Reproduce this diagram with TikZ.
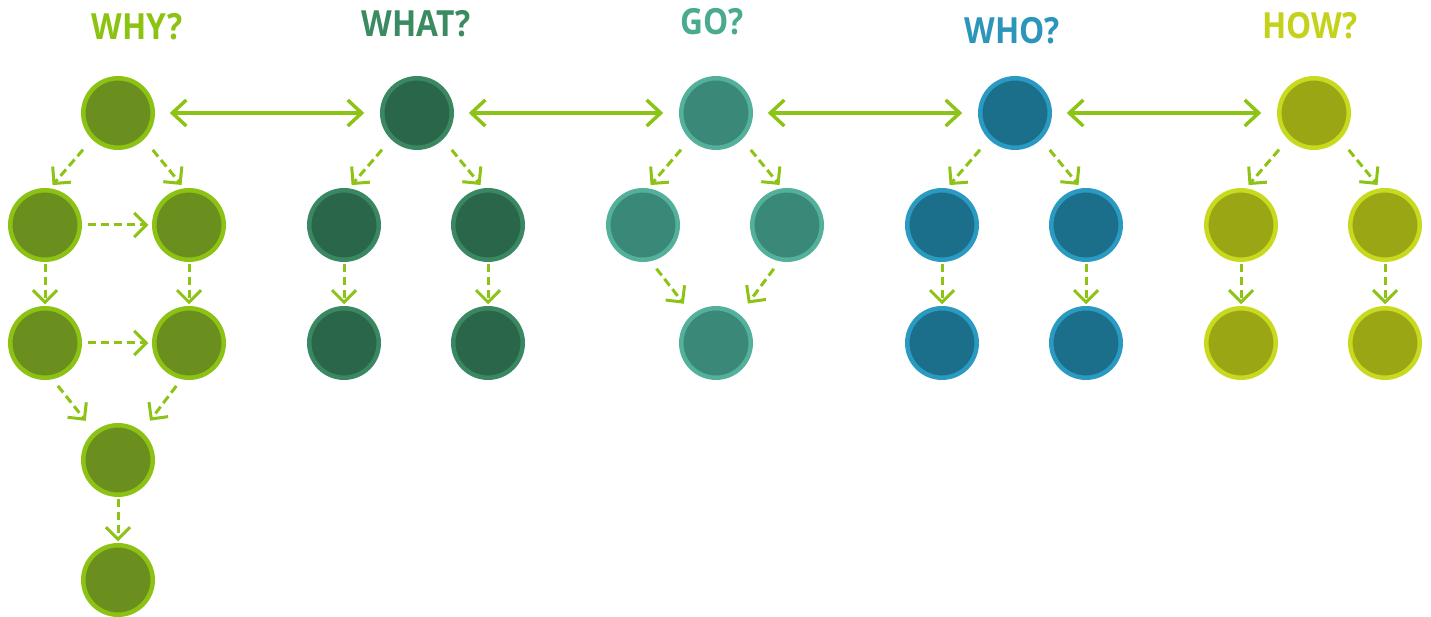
\documentclass[tikz,border=0pt]{standalone}
\usepackage{fontspec}
\setmainfont{Open Sans}
\newfontfamily\qfont{Open Sans}[FakeStretch=0.88]
\usetikzlibrary{arrows.meta}
\definecolor{arrowgreen}{HTML}{8CC314}
\definecolor{fillwhy}{HTML}{6A8F1F}\definecolor{linewhy}{HTML}{8CC214}\definecolor{textwhy}{HTML}{8CC210}
\definecolor{fillwhat}{HTML}{2A664A}\definecolor{linewhat}{HTML}{3A8862}\definecolor{textwhat}{HTML}{3A8A62}
\definecolor{fillgo}{HTML}{3A8877}\definecolor{linego}{HTML}{53B09A}\definecolor{textgo}{HTML}{4AAA90}
\definecolor{fillwho}{HTML}{1B6F8B}\definecolor{linewho}{HTML}{2A9AC2}\definecolor{textwho}{HTML}{2C95BA}
\definecolor{fillhow}{HTML}{9AA614}\definecolor{linehow}{HTML}{C8DA1E}\definecolor{texthow}{HTML}{C4D21C}
\begin{document}
\begin{tikzpicture}[x=0.02cm,y=0.02cm,
  ball/.style = {circle,line width=0.09cm,minimum size=1.39cm,inner sep=0pt,outer sep=0pt},
  link/.style = {draw=arrowgreen,line width=0.07cm,{Straight Barb[length=0.28cm,width=0.52cm]}-{Straight Barb[length=0.28cm,width=0.52cm]},shorten <=0.34cm,shorten >=0.36cm},
  flow/.style = {draw=arrowgreen,line width=0.06cm,dash pattern=on 0.17cm off 0.09cm,-{Straight Barb[length=0.24cm,width=0.48cm]}},
  qtext/.style = {font=\qfont\fontsize{20.5}{24}\selectfont\bfseries}]
\useasboundingbox (0,0) rectangle (1431,-617);
% questions
\node[qtext,text=textwhy]  (whyq)  at (137,-27)  {WHY?};
\node[qtext,text=textwhat] (whatq) at (416,-24)  {WHAT?};
\node[qtext,text=textgo]   (goq)   at (712,-22)  {GO?};
\node[qtext,text=textwho]  (whoq)  at (1012,-31) {WHO?};
\node[qtext,text=texthow]  (howq)  at (1310,-26) {HOW?};
% top row
\foreach \n/\x in {why/118, what/417, go/716, who/1015, how/1314}
    \node[ball,fill=fill\n,draw=line\n] (\n) at (\x,-113) {};
\draw[link] (why) -- (what);
\draw[link] (what) -- (go);
\draw[link] (go) -- (who);
\draw[link] (who) -- (how);
% two branches
\foreach \n/\x in {why/118, what/417, who/1015, how/1314} {
    \node[ball,fill=fill\n,draw=line\n] (\n1) at ({\x-73},-225) {};
    \node[ball,fill=fill\n,draw=line\n] (\n2) at ({\x+71},-225) {};
    \node[ball,fill=fill\n,draw=line\n] (\n3) at ({\x-73},-343) {};
    \node[ball,fill=fill\n,draw=line\n] (\n4) at ({\x+71},-343) {};
    \draw[flow,shorten <=0.32cm,shorten >=0.14cm] (\n.-135) -- (\n1.85);
    \draw[flow,shorten <=0.32cm,shorten >=0.14cm] (\n.-45) -- (\n2.95);
    \draw[flow,shorten <=0.08cm,shorten >=0.08cm] (\n1) -- (\n3);
    \draw[flow,shorten <=0.08cm,shorten >=0.08cm] (\n2) -- (\n4);
}
% why: extra steps
\node[ball,fill=fillwhy,draw=linewhy] (why5) at (118,-460) {};
\node[ball,fill=fillwhy,draw=linewhy] (why6) at (118,-580) {};
\draw[flow,shorten <=0.16cm,shorten >=0.12cm] (why1) -- (why2);
\draw[flow,shorten <=0.16cm,shorten >=0.12cm] (why3) -- (why4);
\draw[flow,shorten <=0.22cm,shorten >=0.32cm] (why3.-80) -- (why5.130);
\draw[flow,shorten <=0.22cm,shorten >=0.32cm] (why4.-100) -- (why5.50);
\draw[flow,shorten <=0.08cm,shorten >=0.08cm] (why5) -- (why6);
% go: diamond
\node[ball,fill=fillgo,draw=linego] (go1) at (643,-225) {};
\node[ball,fill=fillgo,draw=linego] (go2) at (787,-225) {};
\node[ball,fill=fillgo,draw=linego] (go3) at (716,-343) {};
\draw[flow,shorten <=0.32cm,shorten >=0.14cm] (go.-135) -- (go1.85);
\draw[flow,shorten <=0.32cm,shorten >=0.14cm] (go.-45) -- (go2.95);
\draw[flow,shorten <=0.24cm,shorten >=0.32cm] (go1.-80) -- (go3.130);
\draw[flow,shorten <=0.24cm,shorten >=0.32cm] (go2.-100) -- (go3.50);
\end{tikzpicture}
\end{document}
